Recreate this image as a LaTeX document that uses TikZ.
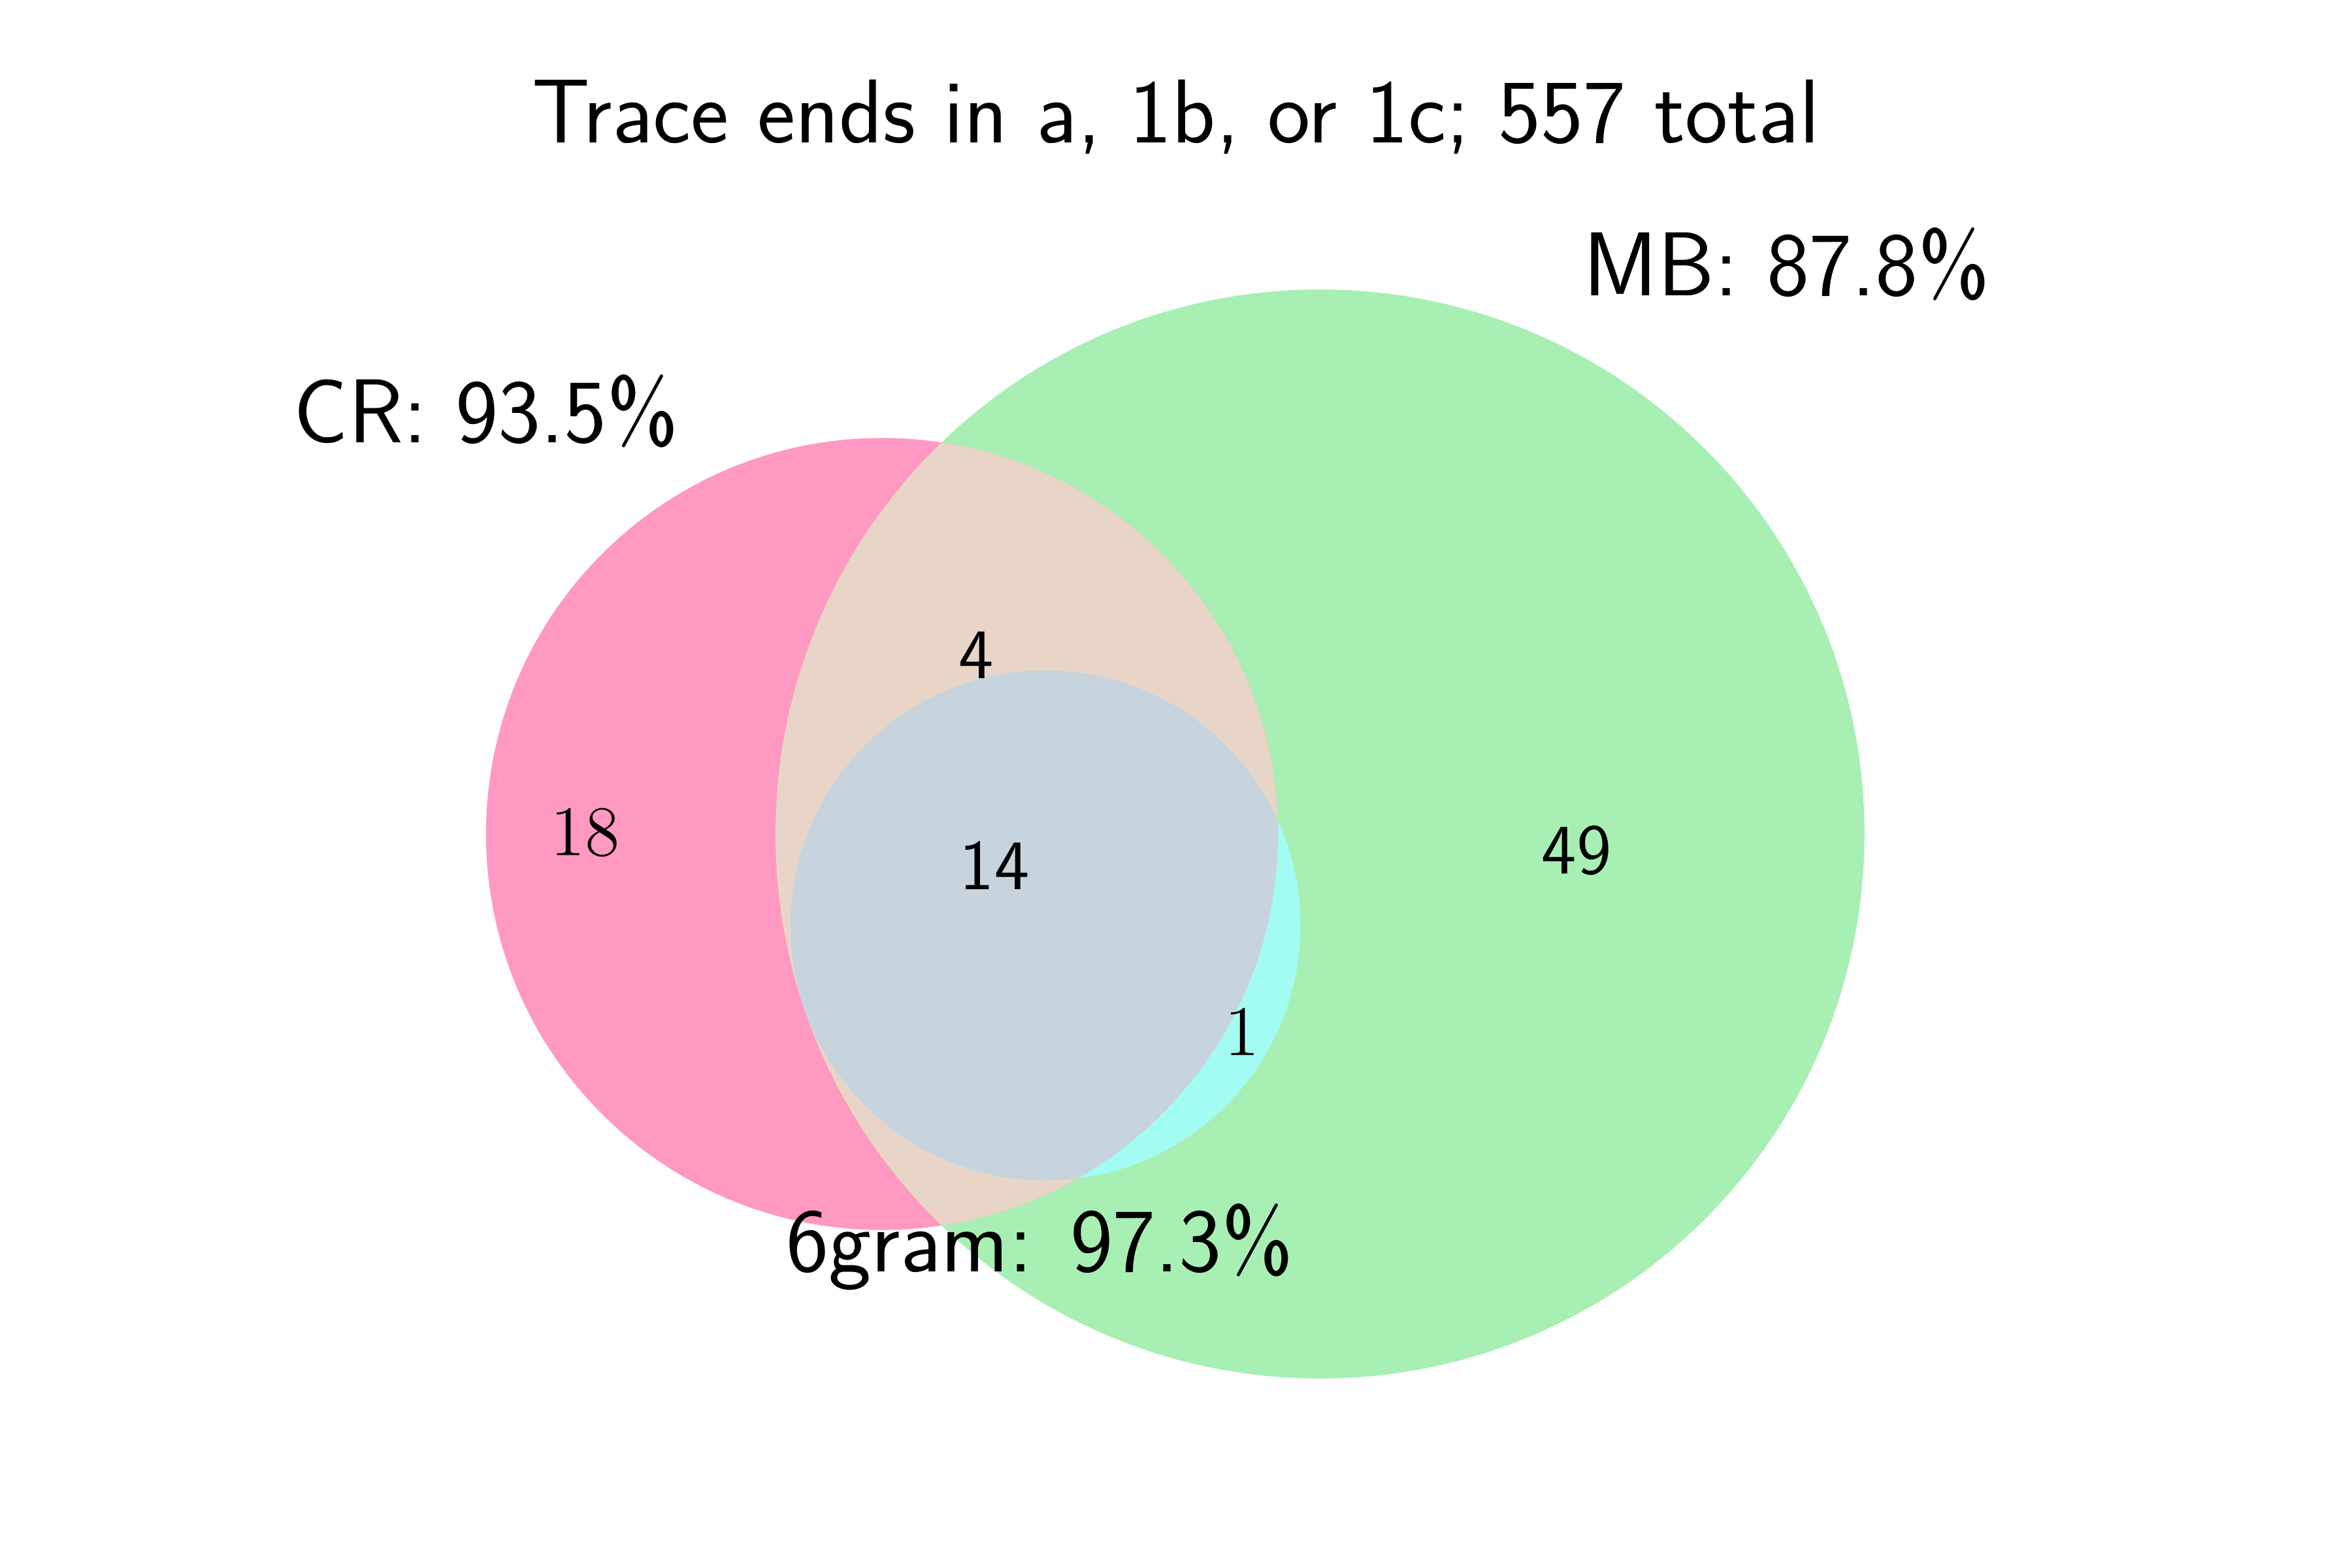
\documentclass[tikz,border=0pt]{standalone}
\usepackage{fontspec}
\definecolor{crpink}{RGB}{255,153,193}
\definecolor{mbgreen}{RGB}{168,239,180}
\definecolor{gcyan}{RGB}{163,252,241}
\definecolor{crmb}{RGB}{233,213,200}
\definecolor{triple}{RGB}{199,212,221}
\tikzset{
  biglabel/.style={font=\sffamily\fontsize{17.2}{20}\selectfont, inner sep=0pt, anchor=base},
  countlabel/.style={font=\sffamily\fontsize{13.5}{16}\selectfont, inner sep=0pt},
  countrm/.style={font=\rmfamily\fontsize{13.5}{16}\selectfont, inner sep=0pt}
}
\begin{document}
\begin{tikzpicture}[x=0.1mm,y=-0.1mm]
\useasboundingbox (0,0) rectangle (1568,1045);
% circles
\def\crC{(588,556) circle[radius=264]}
\def\mbC{(880,556) circle[radius=363]}
\def\gC{(697,617) circle[radius=170]}
\fill[mbgreen] \mbC;
\fill[crpink] \crC;
\begin{scope}
  \clip \crC;
  \fill[crmb] \mbC;
\end{scope}
\begin{scope}
  \clip \mbC;
  \fill[gcyan] \gC;
\end{scope}
\begin{scope}
  \clip \crC;
  \clip \mbC;
  \fill[triple] \gC;
\end{scope}
% texts
\node[biglabel] (title) at (784,95) {Trace ends in a, 1b, or 1c; 557 total};
\node[biglabel] (crlabel) at (324,295) {CR: 93.5\%};
\node[biglabel] (mblabel) at (1191,197) {MB: 87.8\%};
\node[biglabel] (glabel) at (693,848) {6gram: 97.3\%};
\node[countrm] (n18) at (390,555) {18};
\node[countlabel] (n4) at (651,437) {4};
\node[countlabel] (n14) at (663,577) {14};
\node[countrm] (n1) at (828,688) {1};
\node[countlabel] (n49) at (1051,567) {49};
\end{tikzpicture}
\end{document}
